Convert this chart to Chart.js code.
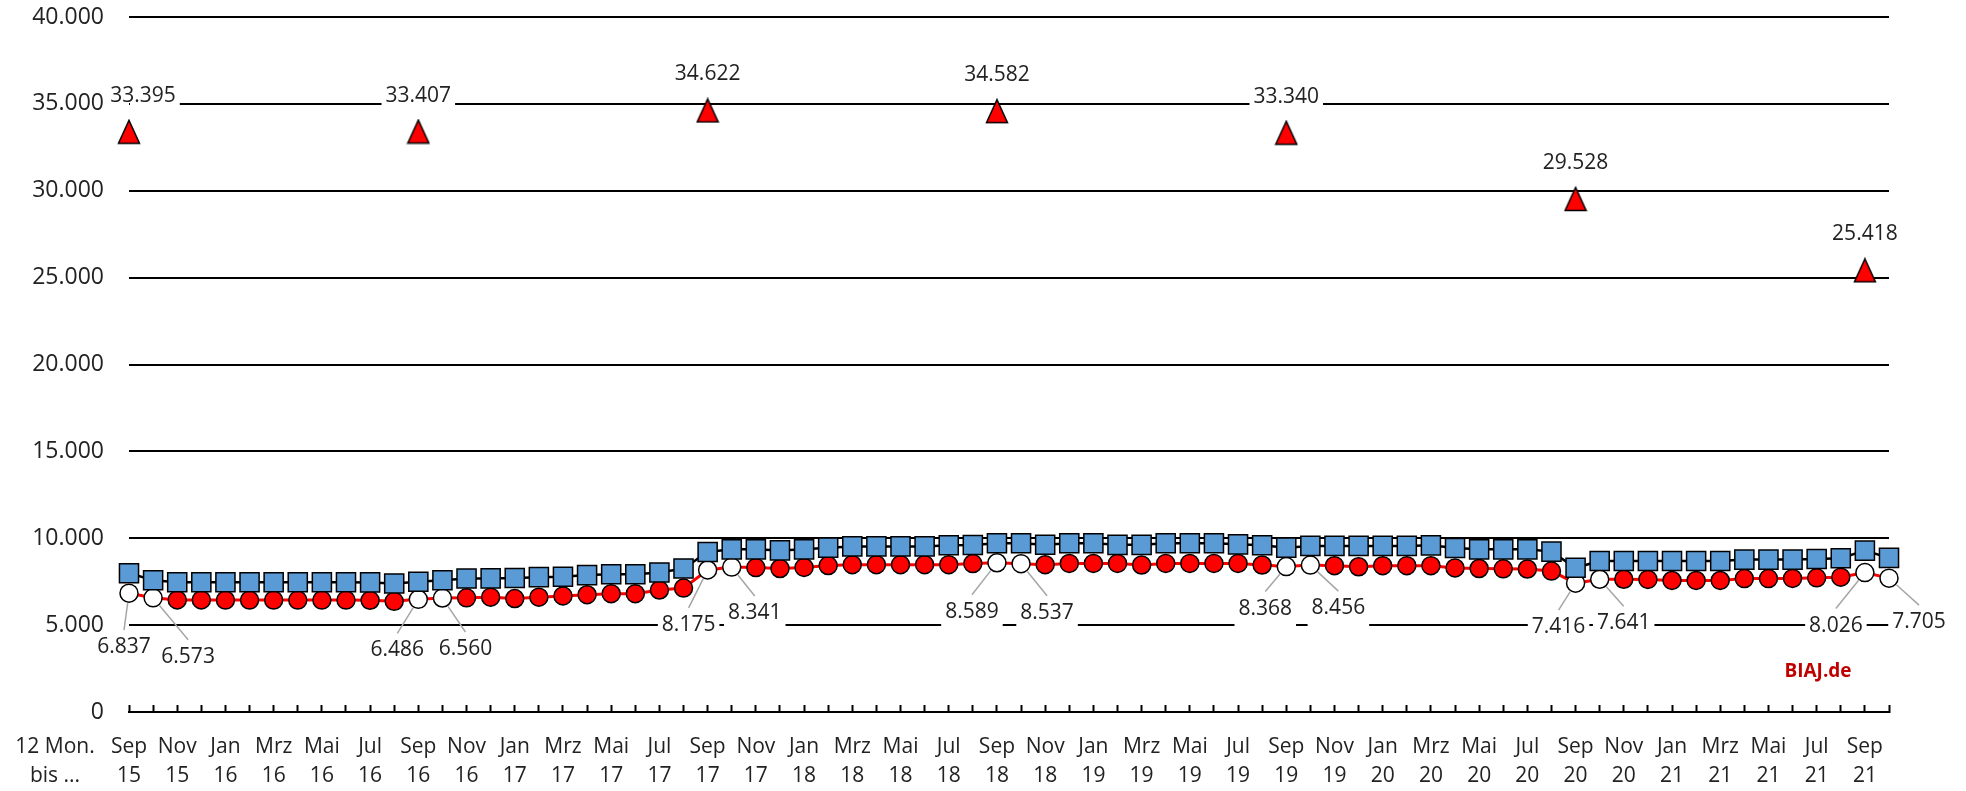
<!DOCTYPE html>
<html>
<head>
<meta charset="utf-8">
<script src="https://cdn.jsdelivr.net/npm/chart.js@4.4.1/dist/chart.umd.min.js"></script>
<style>
  html, body { margin: 0; padding: 0; background: #fff; }
  canvas { display: block; }
</style>
</head>
<body>
<canvas id="chart" width="1966" height="791"></canvas>
<script>
// 12-Monats-Zeiträume, jeweils bis zum genannten Monat
const categories = [
  'Sep 15', 'Okt 15', 'Nov 15', 'Dez 15',
  'Jan 16', 'Feb 16', 'Mrz 16', 'Apr 16', 'Mai 16', 'Jun 16', 'Jul 16', 'Aug 16', 'Sep 16', 'Okt 16', 'Nov 16', 'Dez 16',
  'Jan 17', 'Feb 17', 'Mrz 17', 'Apr 17', 'Mai 17', 'Jun 17', 'Jul 17', 'Aug 17', 'Sep 17', 'Okt 17', 'Nov 17', 'Dez 17',
  'Jan 18', 'Feb 18', 'Mrz 18', 'Apr 18', 'Mai 18', 'Jun 18', 'Jul 18', 'Aug 18', 'Sep 18', 'Okt 18', 'Nov 18', 'Dez 18',
  'Jan 19', 'Feb 19', 'Mrz 19', 'Apr 19', 'Mai 19', 'Jun 19', 'Jul 19', 'Aug 19', 'Sep 19', 'Okt 19', 'Nov 19', 'Dez 19',
  'Jan 20', 'Feb 20', 'Mrz 20', 'Apr 20', 'Mai 20', 'Jun 20', 'Jul 20', 'Aug 20', 'Sep 20', 'Okt 20', 'Nov 20', 'Dez 20',
  'Jan 21', 'Feb 21', 'Mrz 21', 'Apr 21', 'Mai 21', 'Jun 21', 'Jul 21', 'Aug 21', 'Sep 21', 'Okt 21'
];

const blueValues = [
  7990, 7580, 7470, 7470,
  7470, 7470, 7470, 7470, 7470, 7470, 7460, 7400, 7500, 7580, 7680, 7690,
  7710, 7760, 7780, 7880, 7930, 7930, 8030, 8260, 9210, 9360, 9360, 9300,
  9360, 9460, 9530, 9530, 9530, 9530, 9600, 9610, 9710, 9710, 9630, 9710,
  9710, 9620, 9620, 9710, 9710, 9710, 9650, 9600, 9460, 9560, 9560, 9560,
  9560, 9560, 9590, 9440, 9360, 9360, 9360, 9230, 8300, 8690, 8690, 8690,
  8690, 8690, 8690, 8770, 8770, 8770, 8810, 8850, 9290, 8870
];

const redValues = [
  6837, 6573, 6450, 6450,
  6440, 6440, 6440, 6440, 6440, 6440, 6430, 6370, 6486, 6560, 6570, 6610,
  6530, 6610, 6680, 6750, 6810, 6810, 7020, 7130, 8175, 8341, 8310, 8260,
  8320, 8430, 8480, 8480, 8480, 8480, 8480, 8540, 8589, 8537, 8480, 8550,
  8550, 8550, 8460, 8550, 8550, 8550, 8550, 8460, 8368, 8456, 8420, 8360,
  8420, 8420, 8420, 8290, 8260, 8240, 8230, 8110, 7416, 7641, 7640, 7630,
  7570, 7570, 7570, 7680, 7680, 7690, 7720, 7760, 8026, 7705
];

const triangleMonths = ['Sep 15', 'Sep 16', 'Sep 17', 'Sep 18', 'Sep 19', 'Sep 20', 'Sep 21'];
const triangleValues = [33395, 33407, 34622, 34582, 33340, 29528, 25418];

// weiße Kreise mit Beschriftung
const highlightMonths = ['Sep 15', 'Okt 15', 'Sep 16', 'Okt 16', 'Sep 17', 'Okt 17', 'Sep 18', 'Okt 18',
  'Sep 19', 'Okt 19', 'Sep 20', 'Okt 20', 'Sep 21', 'Okt 21'];

const yTicks = [0, 5000, 10000, 15000, 20000, 25000, 30000, 35000, 40000];

// Label-Versatz (dx, dy) gegenüber dem Punkt, in Pixeln
const circleLabelOffsets = {
  'Sep 15': [-5, 54], 'Okt 15': [35, 59],
  'Sep 16': [-21, 51], 'Okt 16': [23, 51],
  'Sep 17': [-19, 55], 'Okt 17': [23, 46],
  'Sep 18': [-25, 49], 'Okt 18': [26, 49],
  'Sep 19': [-21, 42], 'Okt 19': [28, 43],
  'Sep 20': [-17, 44], 'Okt 20': [24, 44],
  'Sep 21': [-29, 53], 'Okt 21': [30, 44]
};
const triangleLabelDx = [14, 0, 0, 0, 0, 0, 0];

const FONT = "'Open Sans', sans-serif";
const TEXT = '#222222';

const fmt = v => String(v).replace(/\B(?=(\d{3})+(?!\d))/g, '.');

function makeTriangle() {
  const c = document.createElement('canvas');
  c.width = 24; c.height = 26;
  const g = c.getContext('2d');
  g.beginPath();
  g.moveTo(12, 1.5);
  g.lineTo(22.5, 24.5);
  g.lineTo(1.5, 24.5);
  g.closePath();
  g.fillStyle = '#FF0000';
  g.fill();
  g.lineWidth = 1.5;
  g.strokeStyle = '#000';
  g.stroke();
  return c;
}

// weißer Hintergrund nur innerhalb der Zeichenfläche (verdeckt Gitterlinien)
function labelBox(ctx, area, text, cx, cy) {
  const w = ctx.measureText(text).width;
  const x0 = Math.max(cx - w / 2 - 4, area.left + 1);
  const x1 = Math.min(cx + w / 2 + 4, area.right);
  if (x1 <= x0) return;
  ctx.fillStyle = '#fff';
  ctx.fillRect(x0, cy - 18, x1 - x0, 36);
}

const labelPlugin = {
  id: 'labelPlugin',
  afterDatasetsDraw(chart) {
    const ctx = chart.ctx;
    const area = chart.chartArea;
    ctx.save();
    ctx.font = '21px ' + FONT;
    ctx.textAlign = 'center';
    ctx.textBaseline = 'middle';

    // Dreiecke
    const triMeta = chart.getDatasetMeta(0);
    triMeta.data.forEach((pt, i) => {
      const text = fmt(triangleValues[i]);
      const cx = pt.x + triangleLabelDx[i];
      const cy = pt.y - 36;
      labelBox(ctx, area, text, cx, cy);
      ctx.fillStyle = TEXT;
      ctx.fillText(text, cx, cy);
    });

    // weiße Kreise
    const redMeta = chart.getDatasetMeta(2);
    const items = [];
    redMeta.data.forEach((pt, i) => {
      const off = circleLabelOffsets[categories[i]];
      if (!off) return;
      items.push({ pt, text: fmt(redValues[i]), cx: pt.x + off[0], cy: pt.y + off[1] });
    });
    items.forEach(it => labelBox(ctx, area, it.text, it.cx, it.cy));
    ctx.strokeStyle = '#A6A6A6';
    ctx.lineWidth = 1.5;
    items.forEach(it => {
      const ex = it.cx, ey = it.cy - 17;
      const dx = ex - it.pt.x, dy = ey - it.pt.y;
      const len = Math.hypot(dx, dy);
      ctx.beginPath();
      ctx.moveTo(it.pt.x + dx / len * 10, it.pt.y + dy / len * 10);
      ctx.lineTo(ex, ey);
      ctx.stroke();
    });
    ctx.fillStyle = TEXT;
    items.forEach(it => ctx.fillText(it.text, it.cx, it.cy));

    // Achsentitel links und Quelle
    const x = chart.scales.x;
    const lineY = x.top + 20 + 14.75;
    ctx.fillText('12 Mon.', 55, lineY);
    ctx.fillText('bis ...', 55, lineY + 29.5);

    ctx.font = 'bold 19px ' + FONT;
    ctx.fillStyle = '#C00000';
    ctx.fillText('BIAJ.de', 1818, 672);
    ctx.restore();
  }
};

new Chart(document.getElementById('chart'), {
  type: 'line',
  data: {
    labels: categories,
    datasets: [
      {
        label: 'Dreiecke',
        data: triangleMonths.map((m, i) => ({ x: m, y: triangleValues[i] })),
        showLine: false,
        pointStyle: makeTriangle(),
        pointRadius: 12
      },
      {
        label: 'Quadrate',
        data: blueValues,
        borderColor: '#000',
        borderWidth: 2.5,
        pointStyle: 'rect',
        pointRadius: 13.5,
        pointBackgroundColor: '#5B9BD5',
        pointBorderColor: '#000',
        pointBorderWidth: 1.5
      },
      {
        label: 'Kreise',
        data: redValues,
        borderColor: '#FF0000',
        borderWidth: 3,
        pointStyle: 'circle',
        pointRadius: 9,
        pointBackgroundColor: c => highlightMonths.includes(categories[c.dataIndex]) ? '#FFFFFF' : '#FF0000',
        pointBorderColor: '#000',
        pointBorderWidth: 1.5
      }
    ]
  },
  options: {
    responsive: false,
    animation: false,
    events: [],
    layout: { padding: { top: 17, right: 77, bottom: 0, left: 0 }, autoPadding: false },
    plugins: {
      legend: { display: false },
      tooltip: { enabled: false }
    },
    scales: {
      x: {
        type: 'category',
        offset: false,
        afterFit: s => { s.height = 79; s.paddingLeft = 0; s.paddingRight = 0; },
        border: { display: true, color: '#000', width: 2 },
        grid: {
          drawOnChartArea: false,
          drawTicks: true,
          tickLength: -7,
          tickColor: '#000',
          tickWidth: 2,
          color: '#000'
        },
        ticks: {
          autoSkip: false,
          maxRotation: 0,
          padding: 27,
          color: TEXT,
          font: { family: FONT, size: 21, lineHeight: 29.5 / 21 },
          callback: function (v, i) {
            return i % 2 === 0 ? categories[i].split(' ') : '';
          }
        }
      },
      y: {
        min: 0,
        max: 40000,
        afterFit: s => { s.width = 129; s.paddingTop = 0; s.paddingBottom = 0; },
        afterBuildTicks: s => { s.ticks = yTicks.map(v => ({ value: v })); },
        border: { display: false },
        grid: { color: '#000', lineWidth: 2, drawTicks: false },
        ticks: {
          padding: 25,
          color: TEXT,
          font: { family: FONT, size: 23 },
          callback: v => fmt(v)
        }
      }
    }
  },
  plugins: [labelPlugin]
});
</script>
</body>
</html>
